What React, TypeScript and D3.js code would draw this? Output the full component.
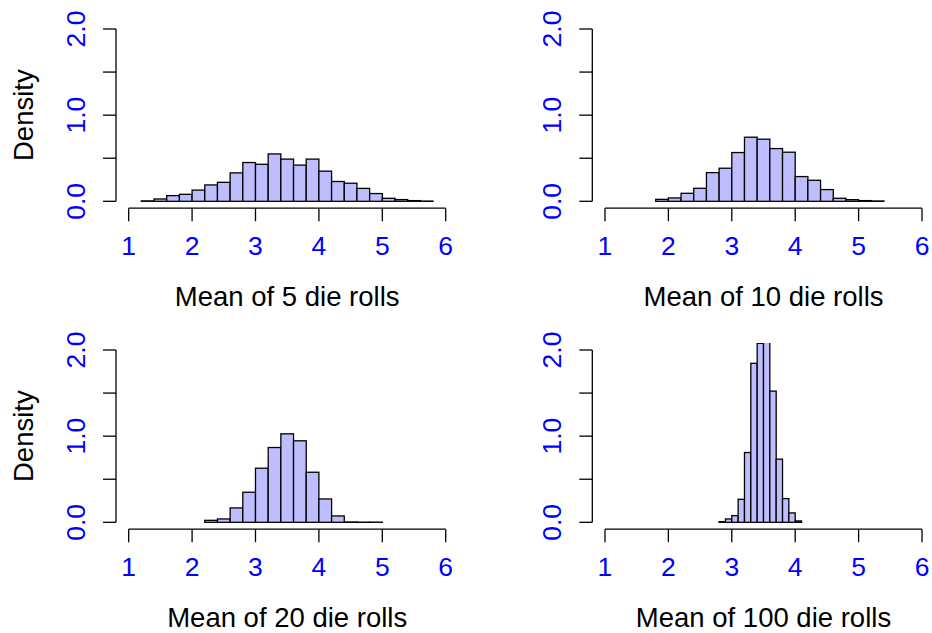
import * as d3 from 'd3';

// histogram bins (break points) and densities
const breaks5 = [1.2, 1.4, 1.6, 1.8, 2.0, 2.2, 2.4, 2.6, 2.8, 3.0, 3.2, 3.4, 3.6, 3.8, 4.0, 4.2, 4.4, 4.6, 4.8, 5.0, 5.2, 5.4, 5.6, 5.8];
const density5 = [0.005, 0.027, 0.066, 0.081, 0.13, 0.19, 0.22, 0.33, 0.45, 0.43, 0.55, 0.49, 0.42, 0.49, 0.35, 0.23, 0.21, 0.15, 0.09, 0.035, 0.02, 0.008, 0.003];

const breaks10 = [1.8, 2.0, 2.2, 2.4, 2.6, 2.8, 3.0, 3.2, 3.4, 3.6, 3.8, 4.0, 4.2, 4.4, 4.6, 4.8, 5.0, 5.2, 5.4];
const density10 = [0.023, 0.039, 0.093, 0.151, 0.333, 0.384, 0.566, 0.744, 0.721, 0.612, 0.57, 0.287, 0.244, 0.136, 0.035, 0.019, 0.008, 0.004];

const breaks20 = [2.2, 2.4, 2.6, 2.8, 3.0, 3.2, 3.4, 3.6, 3.8, 4.0, 4.2, 4.4, 4.6, 4.8, 5.0];
const density20 = [0.023, 0.039, 0.167, 0.349, 0.628, 0.868, 1.027, 0.946, 0.581, 0.271, 0.074, 0.004, 0.002, 0.002];

const breaks100 = [2.8, 2.9, 3.0, 3.1, 3.2, 3.3, 3.4, 3.5, 3.6, 3.7, 3.8, 3.9, 4.0, 4.1];
const density100 = [0.008, 0.039, 0.078, 0.267, 0.81, 1.845, 2.077, 2.22, 1.523, 0.733, 0.275, 0.109, 0.016];

const xLabels = ['Mean of 5 die rolls', 'Mean of 10 die rolls', 'Mean of 20 die rolls', 'Mean of 100 die rolls'];
const xTicks = [1, 2, 3, 4, 5, 6];
const yTicks = [0, 0.5, 1, 1.5, 2];
const yTickLabels = ['0.0', '', '1.0', '', '2.0'];

const W = 932;
const H = 633;
const FONT = '"Liberation Sans", Arial, Helvetica, sans-serif';
const BLUE = '#0000ff';
const FILL = '#bebeff';
const LAB_SIZE = 27.5;
const TICK_SIZE = 26.5;

// plot region size (R usr: x 0.8..6.2, y -0.08..2.08)
const PW = 342.4;
const PH = 186.1;

interface PanelProps {
  id: string;
  left: number;
  top: number;
  breaks: number[];
  density: number[];
  xlab: string;
  ylab?: string;
}

const Panel = ({ id, left, top, breaks, density, xlab, ylab }: PanelProps) => {
  const x = d3.scaleLinear().domain([0.8, 6.2]).range([left, left + PW]);
  const y = d3.scaleLinear().domain([-0.08, 2.08]).range([top + PH, top]);
  const axisY = top + PH;
  const axisX = left;
  const bins = density.map((d, i) => ({ x0: breaks[i], x1: breaks[i + 1], d }));

  return (
    <g>
      <clipPath id={id}>
        <rect x={left} y={top} width={PW} height={PH} />
      </clipPath>
      <g clipPath={`url(#${id})`}>
        {bins.map((b, i) => (
          <rect
            key={i}
            x={x(b.x0)}
            y={y(b.d)}
            width={x(b.x1) - x(b.x0)}
            height={y(0) - y(b.d)}
            fill={FILL}
            stroke="#000"
            strokeWidth={1.3}
          />
        ))}
      </g>

      {/* x axis */}
      <path
        d={`M${x(1)},${axisY}H${x(6)}`}
        stroke="#000"
        strokeWidth={1.3}
        fill="none"
      />
      {xTicks.map((t) => (
        <g key={t}>
          <line x1={x(t)} x2={x(t)} y1={axisY} y2={axisY + 13} stroke="#000" strokeWidth={1.3} />
          <text x={x(t)} y={axisY + 47} textAnchor="middle" fill={BLUE} fontSize={TICK_SIZE} fontFamily={FONT}>
            {t}
          </text>
        </g>
      ))}
      <text
        x={left + PW / 2}
        y={axisY + 98}
        textAnchor="middle"
        fontSize={LAB_SIZE}
        fontFamily={FONT}
        fill="#000"
      >
        {xlab}
      </text>

      {/* y axis */}
      <path
        d={`M${axisX},${y(0)}V${y(2)}`}
        stroke="#000"
        strokeWidth={1.3}
        fill="none"
      />
      {yTicks.map((t, i) => (
        <g key={t}>
          <line x1={axisX - 13} x2={axisX} y1={y(t)} y2={y(t)} stroke="#000" strokeWidth={1.3} />
          {yTickLabels[i] && (
            <text
              transform={`translate(${axisX - 31},${y(t)}) rotate(-90)`}
              textAnchor="middle"
              fill={BLUE}
              fontSize={TICK_SIZE}
              fontFamily={FONT}
            >
              {yTickLabels[i]}
            </text>
          )}
        </g>
      ))}
      {ylab && (
        <text
          transform={`translate(${axisX - 83},${top + PH / 2}) rotate(-90)`}
          textAnchor="middle"
          fontSize={LAB_SIZE}
          fontFamily={FONT}
          fill="#000"
        >
          {ylab}
        </text>
      )}
    </g>
  );
};

export default function App() {
  return (
    <svg
      width={W}
      height={H}
      style={{ position: 'absolute', left: 0, top: 0, background: '#fff' }}
    >
      <rect width={W} height={H} fill="#fff" />
      <Panel id="c1" left={116} top={22.1} breaks={breaks5} density={density5} xlab={xLabels[0]} ylab="Density" />
      <Panel id="c2" left={592.3} top={22.1} breaks={breaks10} density={density10} xlab={xLabels[1]} />
      <Panel id="c3" left={116} top={343.1} breaks={breaks20} density={density20} xlab={xLabels[2]} ylab="Density" />
      <Panel id="c4" left={592.3} top={343.1} breaks={breaks100} density={density100} xlab={xLabels[3]} />
    </svg>
  );
}
